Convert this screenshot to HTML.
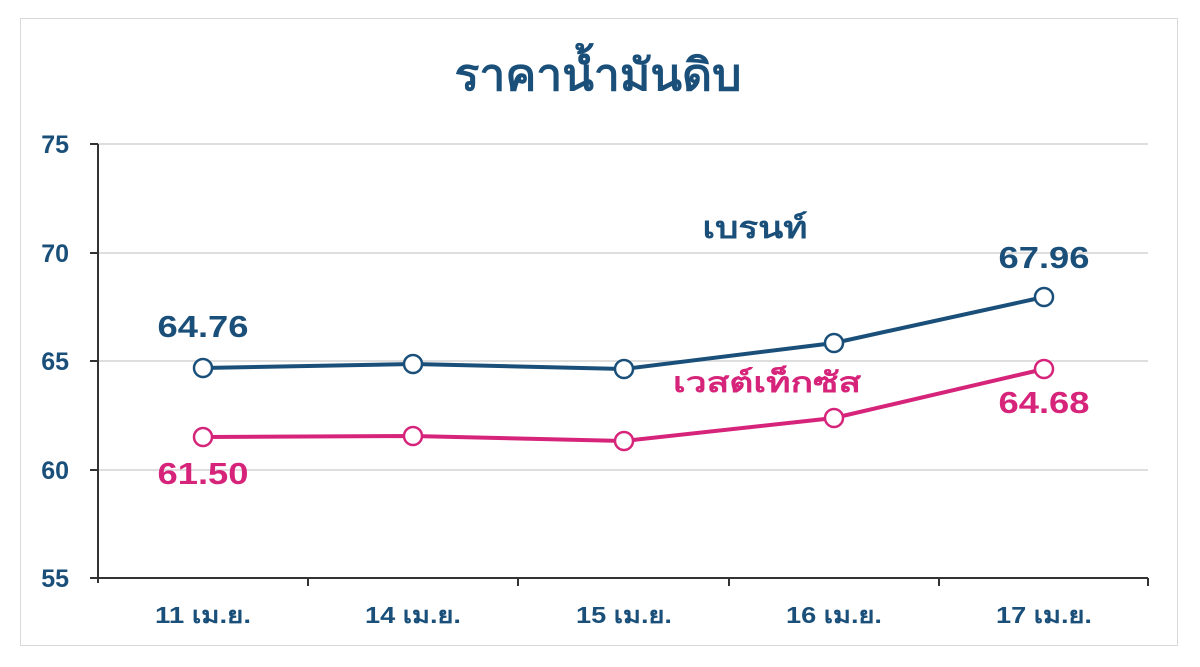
<!DOCTYPE html>
<html><head><meta charset="utf-8"><style>
html,body{margin:0;padding:0;background:#fff;}
body{width:1200px;height:662px;overflow:hidden;font-family:"Liberation Sans","DejaVu Sans",sans-serif;}
</style></head><body>
<svg width="1200" height="662" xmlns="http://www.w3.org/2000/svg" font-family="Liberation Sans, DejaVu Sans, Noto Sans CJK SC, sans-serif">
<rect x="20.5" y="18.5" width="1157" height="627" fill="#fff" stroke="#d9d9d9" stroke-width="1"/>
<text x="598" y="90" text-anchor="middle" font-size="44" font-weight="bold" fill="#1a4f7a" textLength="287" lengthAdjust="spacingAndGlyphs">ราคาน้ำมันดิบ</text>
<g stroke="#dedede" stroke-width="2">
<line x1="98" y1="144" x2="1148" y2="144"/>
<line x1="98" y1="253" x2="1148" y2="253"/>
<line x1="98" y1="361" x2="1148" y2="361"/>
<line x1="98" y1="470" x2="1148" y2="470"/>
</g>
<g stroke="#333" stroke-width="2">
<line x1="98" y1="144" x2="98" y2="583"/>
<line x1="90" y1="578" x2="1148" y2="578"/>
<line x1="90" y1="144" x2="98" y2="144"/><line x1="90" y1="253" x2="98" y2="253"/>
<line x1="90" y1="361" x2="98" y2="361"/><line x1="90" y1="470" x2="98" y2="470"/>
<line x1="308" y1="578" x2="308" y2="586"/><line x1="518" y1="578" x2="518" y2="586"/>
<line x1="729" y1="578" x2="729" y2="586"/><line x1="939" y1="578" x2="939" y2="586"/>
<line x1="1148" y1="578" x2="1148" y2="586"/>
</g>
<g font-size="25" font-weight="bold" fill="#1a4f7a" text-anchor="end">
<text x="69" y="153">75</text><text x="69" y="262">70</text><text x="69" y="370">65</text>
<text x="69" y="479">60</text><text x="69" y="587">55</text>
</g>
<g font-size="23" font-weight="bold" fill="#1a4f7a" text-anchor="middle">
<text x="203" y="623" textLength="96" lengthAdjust="spacingAndGlyphs">11 เม.ย.</text>
<text x="413" y="623" textLength="96" lengthAdjust="spacingAndGlyphs">14 เม.ย.</text>
<text x="624" y="623" textLength="96" lengthAdjust="spacingAndGlyphs">15 เม.ย.</text>
<text x="834" y="623" textLength="96" lengthAdjust="spacingAndGlyphs">16 เม.ย.</text>
<text x="1044" y="623" textLength="96" lengthAdjust="spacingAndGlyphs">17 เม.ย.</text>
</g>
<polyline points="203,368 413,364 624,369 834,343 1044,297" fill="none" stroke="#1a4f7a" stroke-width="4"/>
<polyline points="203,437 413,436 624,441 834,418 1044,369" fill="none" stroke="#d6247a" stroke-width="4"/>
<g fill="#fff" stroke="#1a4f7a" stroke-width="2.5">
<circle cx="203" cy="368" r="9"/><circle cx="413" cy="364" r="9"/><circle cx="624" cy="369" r="9"/><circle cx="834" cy="343" r="9"/><circle cx="1044" cy="297" r="9"/>
</g>
<g fill="#fff" stroke="#d6247a" stroke-width="2.5">
<circle cx="203" cy="437" r="9"/><circle cx="413" cy="436" r="9"/><circle cx="624" cy="441" r="9"/><circle cx="834" cy="418" r="9"/><circle cx="1044" cy="369" r="9"/>
</g>
<g font-size="31" font-weight="bold" text-anchor="middle">
<text x="203" y="337" fill="#1a4f7a" textLength="91" lengthAdjust="spacingAndGlyphs">64.76</text>
<text x="1044" y="268" fill="#1a4f7a" textLength="91" lengthAdjust="spacingAndGlyphs">67.96</text>
<text x="203" y="484" fill="#d6247a" textLength="91" lengthAdjust="spacingAndGlyphs">61.50</text>
<text x="1044" y="413" fill="#d6247a" textLength="91" lengthAdjust="spacingAndGlyphs">64.68</text>
</g>
<text x="755" y="238" text-anchor="middle" font-size="30" font-weight="bold" fill="#1a4f7a" textLength="105" lengthAdjust="spacingAndGlyphs">เบรนท์</text>
<text x="767" y="392" text-anchor="middle" font-size="28" font-weight="bold" fill="#d6247a" textLength="188" lengthAdjust="spacingAndGlyphs">เวสต์เท็กซัส</text>
</svg>
</body></html>
